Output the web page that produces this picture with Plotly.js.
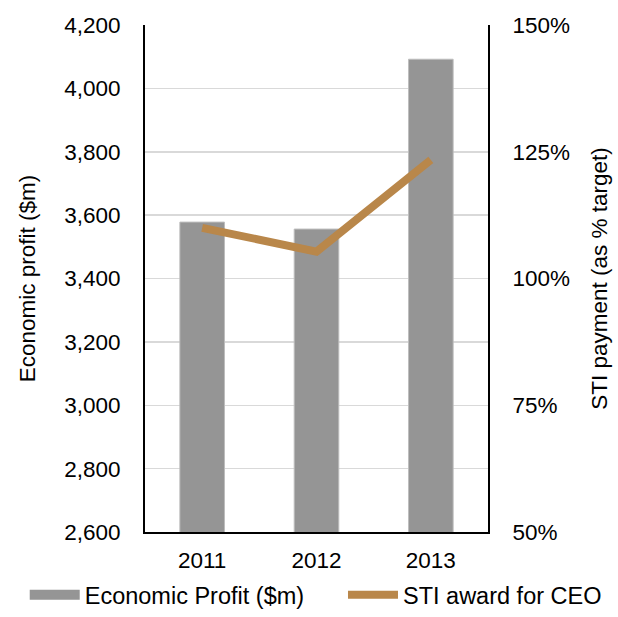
<!DOCTYPE html>
<html><head><meta charset="utf-8">
<script src="https://cdn.plot.ly/plotly-3.0.1.min.js"></script>
<style>body{margin:0;background:#fff}#chart{width:618px;height:617px}</style>
</head><body><div id="chart"></div>
<script>
const years = ['2011', '2012', '2013'];
const economicProfit = [3578, 3556, 4092];
const stiAward = [110, 105.3, 123.4];
const leftTicks = [2600, 2800, 3000, 3200, 3400, 3600, 3800, 4000, 4200];
const rightTicks = [50, 75, 100, 125, 150];

const font = {family: 'Liberation Sans, Arial, sans-serif', size: 22.5, color: '#000'};
const legendFont = {family: 'Liberation Sans, Arial, sans-serif', size: 23.5, color: '#000'};
const barColor = '#959595';
const lineColor = '#B9874A';
const data = [
  {type: 'bar', x: years, y: economicProfit, name: 'Economic Profit ($m)', showlegend: false,
   marker: {color: barColor, line: {color: '#BDBDBD', width: 1}}, width: 0.39},
  {type: 'scatter', mode: 'lines', x: years, y: stiAward, yaxis: 'y2', name: 'STI award for CEO',
   showlegend: false, line: {color: lineColor, width: 8}},
  // legend-only entries (wide swatches as in the reference)
  {type: 'scatter', mode: 'lines', x: [null], y: [null], name: 'Economic Profit ($m)',
   line: {color: barColor, width: 11}, legend: 'legend'},
  {type: 'scatter', mode: 'lines', x: [null], y: [null], yaxis: 'y2', name: 'STI award for CEO',
   line: {color: lineColor, width: 8}, legend: 'legend2'}
];
const legendBase = {orientation: 'h', xref: 'container', yref: 'container', xanchor: 'left',
  y: -0.008, yanchor: 'bottom', font: legendFont, itemwidth: 50, bgcolor: 'rgba(0,0,0,0)'};
const layout = {
  width: 618, height: 617,
  margin: {l: 145, r: 130, t: 25, b: 85},
  paper_bgcolor: '#fff', plot_bgcolor: '#fff',
  font: font,
  showlegend: true,
  legend: Object.assign({}, legendBase, {x: 0.04}),
  legend2: Object.assign({}, legendBase, {x: 0.555}),
  xaxis: {type: 'category', showline: true, linecolor: '#000', linewidth: 2, ticks: '', tickfont: font,
    ticklabelstandoff: 7},
  yaxis: {range: [2600, 4200], tickvals: leftTicks, ticktext: leftTicks.map(v => v.toLocaleString('en-US')),
    showgrid: true, gridcolor: '#D9D9D9', gridwidth: 1.5, showline: true, linecolor: '#000', linewidth: 2,
    zeroline: false, ticks: '', tickfont: font, ticklabelstandoff: 18,
    title: {text: 'Economic profit ($m)', font: font, standoff: 22}},
  yaxis2: {range: [50, 150], tickvals: rightTicks, ticktext: rightTicks.map(v => v + '%'),
    overlaying: 'y', side: 'right', showgrid: false, showline: true, linecolor: '#000', linewidth: 2,
    zeroline: false, ticks: '', tickfont: font, ticklabelstandoff: 18,
    title: {text: 'STI payment (as % target)', font: font, standoff: 22}}
};
Plotly.newPlot('chart', data, layout, {displayModeBar: false, staticPlot: true});
</script></body></html>
